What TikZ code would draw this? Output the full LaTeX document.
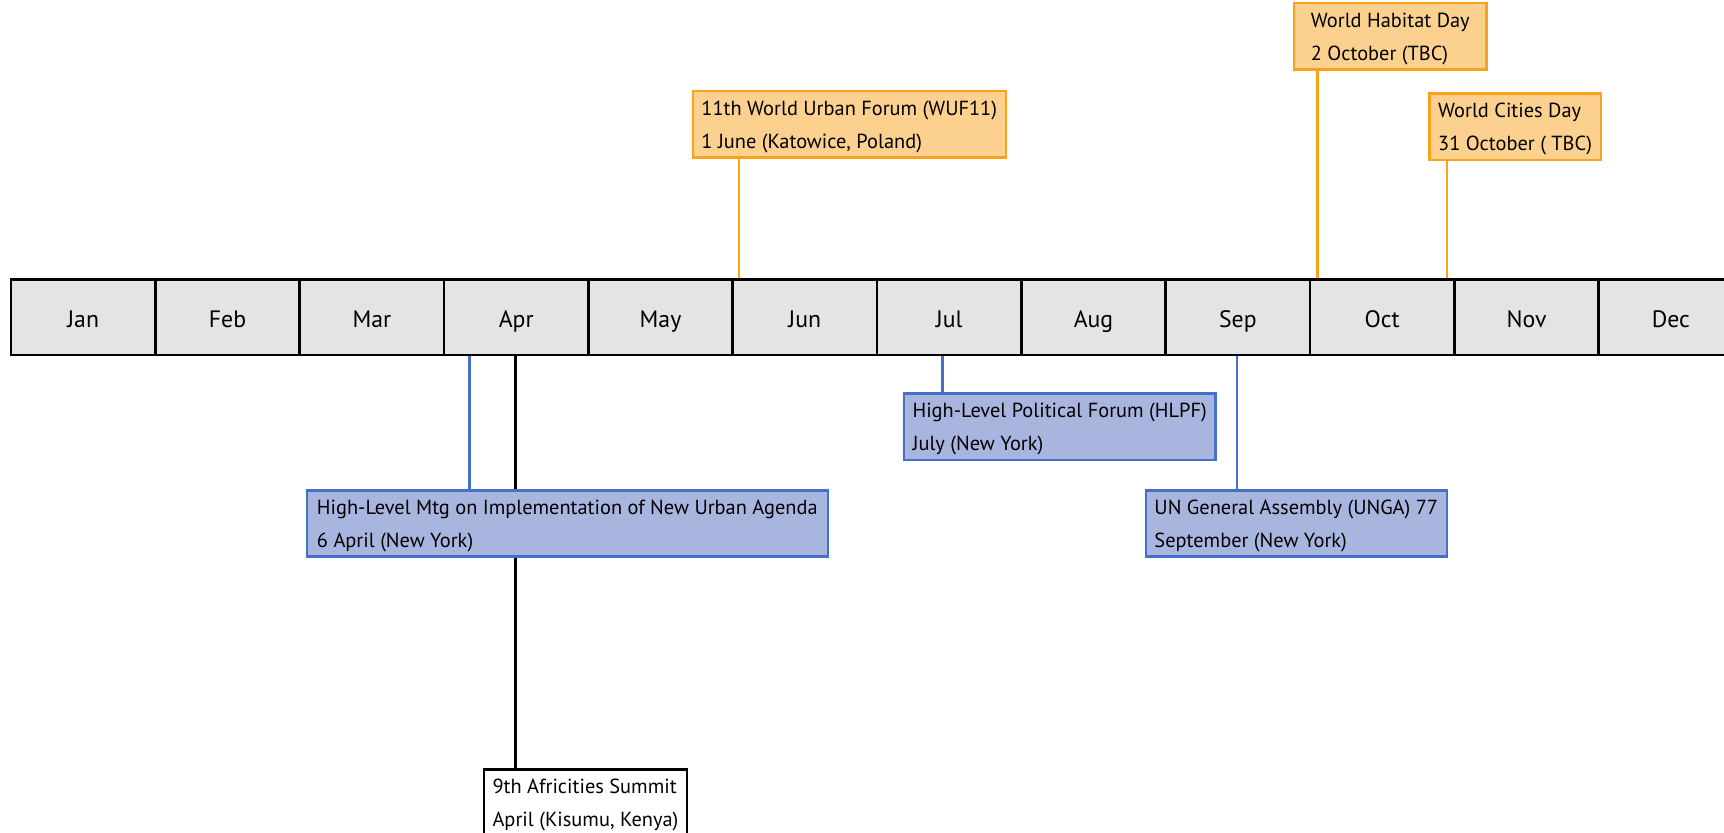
\documentclass[tikz,border=0pt]{standalone}
\usepackage{fontspec}
\setmainfont{PT Sans}
\usetikzlibrary{positioning,backgrounds}

\definecolor{barfill}{RGB}{228,228,228}
\definecolor{orgfill}{RGB}{252,208,142}
\definecolor{orgline}{RGB}{250,163,26}
\definecolor{bluefill}{RGB}{168,182,223}
\definecolor{blueline}{RGB}{70,112,200}
\newcommand{\topstrut}{\rule{0pt}{12.5pt}}
\newcommand{\botstrut}{\rule[-4.8pt]{0pt}{4.8pt}}

\begin{document}
\begin{tikzpicture}[x=0.02cm,y=-0.02cm,line join=miter]
\tikzstyle{month} = [draw=black,line width=1.3pt,fill=barfill,outer sep=0pt,inner sep=0pt,
  minimum width=2.626cm,minimum height=1.38cm,text height=11pt,text depth=0pt,
  font=\fontsize{12.3}{14}\selectfont]
\tikzstyle{event} = [anchor=north west,line width=1.2pt,outer sep=0pt,inner xsep=0.16cm,inner ysep=0pt,
  align=left,font=\fontsize{10.55}{17}\selectfont]
\tikzstyle{orgbox} = [event,draw=orgline,fill=orgfill]
\tikzstyle{bluebox} = [event,draw=blueline,fill=bluefill]
\tikzstyle{plainbox} = [event,draw=black,fill=white]
\tikzstyle{pin} = [line width=1.4pt]
    \useasboundingbox (0,0) rectangle (1568,757);

    % month bar
    \node[month,anchor=north west] (jan) at (10,254) {Jan};
    \node[month] (feb) [right=0pt of jan] {Feb};
    \node[month] (mar) [right=0pt of feb] {Mar};
    \node[month] (apr) [right=0pt of mar] {Apr};
    \node[month] (may) [right=0pt of apr] {May};
    \node[month] (jun) [right=0pt of may] {Jun};
    \node[month] (jul) [right=0pt of jun] {Jul};
    \node[month] (aug) [right=0pt of jul] {Aug};
    \node[month] (sep) [right=0pt of aug] {Sep};
    \node[month] (oct) [right=0pt of sep] {Oct};
    \node[month] (nov) [right=0pt of oct] {Nov};
    \node[month] (dec) [right=0pt of nov] {Dec};

    % events above
    \node[orgbox,minimum width=5.66cm] (wuf) at (630,83)
      {\topstrut 11th World Urban Forum (WUF11)\\1 June (Katowice, Poland)\botstrut};
    \node[orgbox,minimum width=3.5cm] (hab) at (1177,3)
      {\topstrut World Habitat Day\\2 October (TBC)\botstrut};
    \node[orgbox,minimum width=3.08cm] (wcd) at (1300,85)
      {\topstrut World Cities Day\\31 October ( TBC)\botstrut};

    % events below
    \node[bluebox,minimum width=5.56cm] (hlpf) at (822,358)
      {\topstrut High-Level Political Forum (HLPF)\\July (New York)\botstrut};
    \node[bluebox,minimum width=9.48cm] (nua) at (279,446)
      {\topstrut High-Level Mtg on Implementation of New Urban Agenda\\6 April (New York)\botstrut};
    \node[bluebox,minimum width=5.46cm] (unga) at (1042,446)
      {\topstrut UN General Assembly (UNGA) 77\\September (New York)\botstrut};
    \node[plainbox,minimum width=3.58cm] (afr) at (440,700)
      {\topstrut 9th Africities Summit\\April (Kisumu, Kenya)\botstrut};

    \coordinate (wufpin) at ([xshift=0.84cm]wuf.south west);
    \coordinate (habpin) at ([xshift=0.42cm]hab.south west);
    \coordinate (wcdpin) at ([xshift=0.32cm]wcd.south west);
    \coordinate (hlpfpin) at ([xshift=0.7cm]hlpf.north west);
    \coordinate (nuapin) at ([xshift=2.96cm]nua.north west);
    \coordinate (ungapin) at ([xshift=1.66cm]unga.north west);
    \coordinate (afrpin) at ([xshift=0.58cm]afr.north west);

    \begin{scope}[on background layer]
    \draw[pin,orgline] (wufpin) -- (wufpin |- jun.north);
    \draw[pin,orgline] (habpin) -- (habpin |- oct.north);
    \draw[pin,orgline] (wcdpin) -- (wcdpin |- oct.north);
    \draw[pin,blueline] (hlpfpin) -- (hlpfpin |- jul.south);
    \draw[pin,blueline] (nuapin) -- (nuapin |- apr.south);
    \draw[pin,blueline] (ungapin) -- (ungapin |- sep.south);
    \draw[pin,black] (afrpin) -- (afrpin |- apr.south);
    \end{scope}
\end{tikzpicture}
\end{document}
